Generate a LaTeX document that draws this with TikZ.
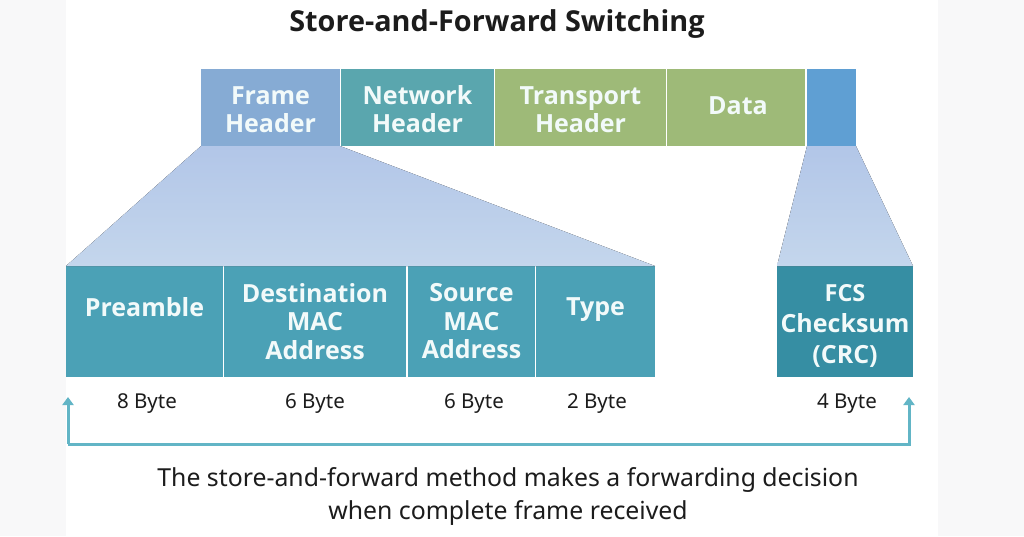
\documentclass[tikz,border=0pt]{standalone}
\usepackage{fontspec}
\setmainfont{Noto Sans}
\newfontfamily\heavyfont{Open Sans}
\usetikzlibrary{arrows.meta}
\definecolor{frameblue}{HTML}{86ABD4}
\definecolor{nettEal}{HTML}{5AA6AE}
\definecolor{transgreen}{HTML}{9EBA78}
\definecolor{crcblue}{HTML}{5F9FD3}
\definecolor{lowteal}{HTML}{4BA1B6}
\definecolor{fcsteal}{HTML}{368EA3}
\definecolor{funtop}{HTML}{B2C6E8}
\definecolor{funbot}{HTML}{C4D6EC}
\definecolor{wirecol}{HTML}{62B5C6}
\definecolor{pagegrey}{HTML}{F8F8F9}
\definecolor{inktext}{HTML}{1C1C1C}
\definecolor{softwhite}{HTML}{F2FAFA}
\tikzset{
  x=1pt,y=-1pt,
  cell/.style={anchor=north west,inner sep=0pt,outer sep=0pt,align=center,text=softwhite,font=\fontsize{25}{28.5}\heavyfont\bfseries},
  top/.style={cell,minimum height=77pt},
  low/.style={cell,minimum height=111pt,fill=lowteal},
  size/.style={inner sep=0pt,text=inktext,font=\fontsize{20.5}{23}\selectfont},
  caption/.style={inner sep=0pt,align=center,text=inktext,font=\fontsize{24.8}{33}\selectfont},
  heading/.style={inner sep=0pt,text=inktext,font=\fontsize{28.8}{32}\heavyfont\bfseries},
  funnel/.style={top color=funtop,bottom color=funbot},
  wire/.style={draw=wirecol,line width=3pt,-{Triangle[width=11pt,length=8pt]}}
}
\begin{document}
\begin{tikzpicture}
\useasboundingbox (0,0) rectangle (1024,536);
\fill[pagegrey] (0,0) rectangle (1024,536);
\fill[white] (66,0) rectangle (938,536);
\node[heading] (title) at (497,24) {Store-and-Forward Switching};
\node[top,fill=frameblue,minimum width=139pt] (fh) at (201,69) {\rule{0pt}{22pt}Frame\\Header};
\node[top,fill=nettEal,minimum width=153pt] (nh) at (341,69) {\rule{0pt}{22pt}Network\\Header};
\node[top,fill=transgreen,minimum width=171pt] (th) at (495,69) {\rule{0pt}{22pt}Transport\\Header};
\node[top,fill=transgreen,minimum width=138pt] (data) at (667,69) {\hspace*{4pt}\raisebox{4pt}{Data}};
\node[top,fill=crcblue,minimum width=49pt] (crc) at (807,69) {};
\node[low,minimum width=157pt] (pre) at (66,266) {\raisebox{30pt}{Preamble}};
\node[low,minimum width=182pt] (dst) at (224,266) {Destination\\MAC\\Address};
\node[low,minimum width=127pt] (src) at (408,266) {Source\\MAC\\Address};
\node[low,minimum width=119pt] (type) at (536,266) {\raisebox{30pt}{Type}};
\node[low,fill=fcsteal,minimum width=136pt] (fcs) at (777,266) {\fontsize{23.5}{28.5}\selectfont\rule{0pt}{26pt}FCS\\[2.5pt]Checksum\\[2.5pt](CRC)};
\fill[funnel] (fh.south west) -- (fh.south east) -- (type.north east) -- (pre.north west) -- cycle;
\fill[funnel] (crc.south west) -- (crc.south east) -- (fcs.north east) -- (fcs.north west) -- cycle;
\node[size] (s1) at (147,404) {8 Byte};
\node[size] (s2) at (315,404) {6 Byte};
\node[size] (s3) at (474,404) {6 Byte};
\node[size] (s4) at (597,404) {2 Byte};
\node[size] (s5) at (847,404) {4 Byte};
\coordinate (wl) at (68,397);
\coordinate (wr) at (909,397);
\coordinate (wbl) at (68,444);
\coordinate (wbr) at (909,444);
\draw[wire] (wbl) -- (wl);
\draw[wire] (wbl) -- (wbr) -- (wr);
\node[caption] (cap) at (508,496) {The store-and-forward method makes a forwarding decision\\when complete frame received};
\end{tikzpicture}
\end{document}
